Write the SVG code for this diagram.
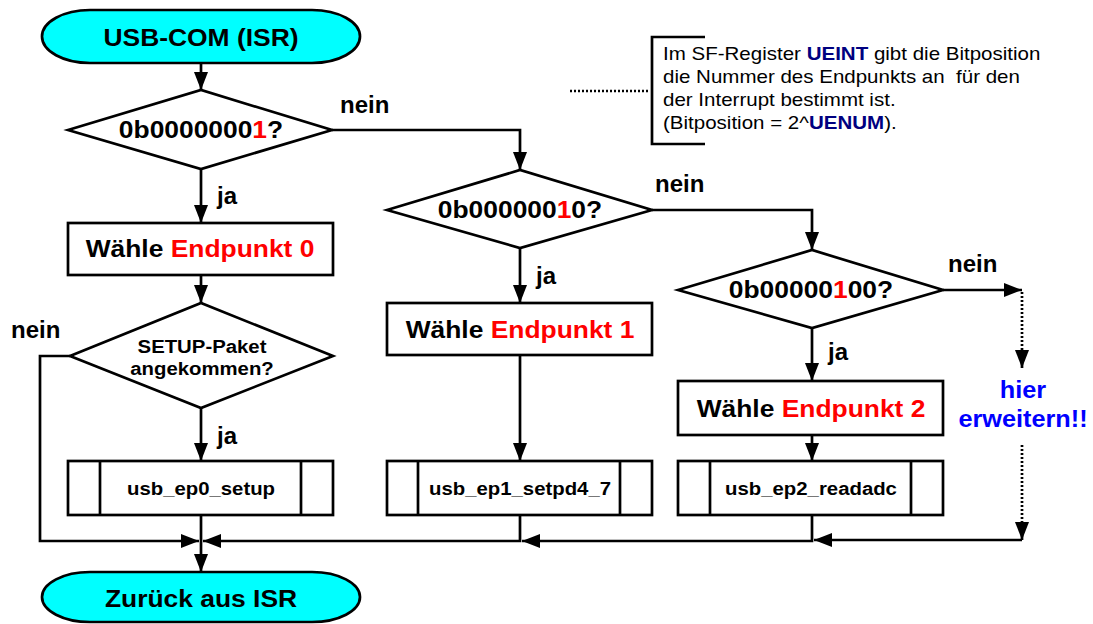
<svg xmlns="http://www.w3.org/2000/svg" width="1093" height="624" viewBox="0 0 1093 624">
  <style>
    .shape { fill: #ffffff; stroke: #000000; stroke-width: 2.7; }
    .term { fill: #00ffff; stroke: #000000; stroke-width: 2.7; }
    .line { fill: none; stroke: #000000; stroke-width: 2.7; }
    .dot { fill: none; stroke: #000000; stroke-width: 2.7; stroke-dasharray: 2 2; }
    .lbl { font-family: "Liberation Sans", Arial, sans-serif; font-weight: bold; fill: #000000; }
    .big { font-size: 24px; }
    .mid { font-size: 18.5px; }
    .red { fill: #ff0000; }
    .blue { fill: #0000ff; }
    .note { font-family: "Liberation Sans", Arial, sans-serif; font-size: 18px; fill: #000000; white-space: pre; }
    .navy { fill: #000080; font-weight: bold; }
  </style>
  <defs>
    <marker id="arr" viewBox="0 0 18 14" refX="18" refY="7" markerWidth="18" markerHeight="14" markerUnits="userSpaceOnUse" orient="auto">
      <path d="M0,0 L18,7 L0,14 Z" fill="#000000"/>
    </marker>
  </defs>

  <!-- connectors -->
  <g id="connectors">
    <path class="line" d="M201,63 V90" marker-end="url(#arr)"/>
    <path class="line" d="M201,169 V223" marker-end="url(#arr)"/>
    <path class="line" d="M201,275 V303" marker-end="url(#arr)"/>
    <path class="line" d="M201,408 V461" marker-end="url(#arr)"/>
    <path class="line" d="M201,515 V572" marker-end="url(#arr)"/>
    <path class="line" d="M70,356 H40 V541 H199" marker-end="url(#arr)"/>
    <path class="line" d="M332,130 H520 V170" marker-end="url(#arr)"/>
    <path class="line" d="M520,248 V303" marker-end="url(#arr)"/>
    <path class="line" d="M520,355 V461" marker-end="url(#arr)"/>
    <path class="line" d="M520,515 V541 H203" marker-end="url(#arr)"/>
    <path class="line" d="M652,210 H812 V250" marker-end="url(#arr)"/>
    <path class="line" d="M812,328 V381" marker-end="url(#arr)"/>
    <path class="line" d="M812,435 V461" marker-end="url(#arr)"/>
    <path class="line" d="M812,515 V541 H522" marker-end="url(#arr)"/>
    <path class="line" d="M943,290 H1022" marker-end="url(#arr)"/>
    <path class="dot" d="M1022,292 V350"/>
    <path class="line" d="M1022,350 V368" marker-end="url(#arr)"/>
    <path class="dot" d="M1022,445 V524"/>
    <path class="line" d="M1022,524 V540" marker-end="url(#arr)"/>
    <path class="line" d="M1022,540 H814" marker-end="url(#arr)"/>
    <path class="dot" d="M570,91 H648"/>
  </g>

  <!-- connector labels -->
  <g id="labels" class="lbl big">
    <text x="340" y="113">nein</text>
    <text x="655" y="192">nein</text>
    <text x="948" y="272">nein</text>
    <text x="11" y="338">nein</text>
    <text x="217" y="204">ja</text>
    <text x="536" y="284">ja</text>
    <text x="828" y="360">ja</text>
    <text x="217" y="444">ja</text>
  </g>

  <g id="start">
    <rect class="term" x="42" y="10" width="318" height="53" rx="48" ry="26.5"/>
    <text class="lbl big" transform="translate(201 0) scale(1.1 1)" x="0" y="46" text-anchor="middle">USB-COM (ISR)</text>
  </g>

  <g id="dec0">
    <polygon class="shape" points="68,130 201,90 332,130 201,169"/>
    <text class="lbl big" transform="translate(201 0) scale(1.1 1)" x="0" y="138" text-anchor="middle">0b0000000<tspan class="red">1</tspan>?</text>
  </g>

  <g id="sel0">
    <rect class="shape" x="68" y="223" width="265" height="52"/>
    <text class="lbl big" transform="translate(200 0) scale(1.1 1)" x="0" y="257" text-anchor="middle">Wähle <tspan class="red">Endpunkt 0</tspan></text>
  </g>

  <g id="setup">
    <polygon class="shape" points="70,356 201,303 333,356 201,408"/>
    <text class="lbl mid" transform="translate(202 0) scale(1.1 1)" x="0" y="353" text-anchor="middle">SETUP-Paket</text>
    <text class="lbl mid" transform="translate(202 0) scale(1.1 1)" x="0" y="375" text-anchor="middle">angekommen?</text>
  </g>

  <g id="ep0">
    <rect class="shape" x="68" y="461" width="265" height="54"/>
    <path class="line" d="M100,461 V515 M301,461 V515"/>
    <text class="lbl mid" transform="translate(201 0) scale(1.1 1)" x="0" y="495" text-anchor="middle">usb_ep0_setup</text>
  </g>

  <g id="dec1">
    <polygon class="shape" points="387,210 520,170 652,210 520,248"/>
    <text class="lbl big" transform="translate(520 0) scale(1.1 1)" x="0" y="218" text-anchor="middle">0b000000<tspan class="red">1</tspan>0?</text>
  </g>

  <g id="sel1">
    <rect class="shape" x="387" y="303" width="265" height="52"/>
    <text class="lbl big" transform="translate(520 0) scale(1.1 1)" x="0" y="338" text-anchor="middle">Wähle <tspan class="red">Endpunkt 1</tspan></text>
  </g>

  <g id="ep1">
    <rect class="shape" x="387" y="461" width="265" height="54"/>
    <path class="line" d="M418,461 V515 M620,461 V515"/>
    <text class="lbl mid" transform="translate(520 0) scale(1.1 1)" x="0" y="495" text-anchor="middle">usb_ep1_setpd4_7</text>
  </g>

  <g id="dec2">
    <polygon class="shape" points="678,290 812,250 943,290 812,328"/>
    <text class="lbl big" transform="translate(811 0) scale(1.1 1)" x="0" y="298" text-anchor="middle">0b00000<tspan class="red">1</tspan>00?</text>
  </g>

  <g id="sel2">
    <rect class="shape" x="678" y="381" width="265" height="54"/>
    <text class="lbl big" transform="translate(811 0) scale(1.1 1)" x="0" y="417" text-anchor="middle">Wähle <tspan class="red">Endpunkt 2</tspan></text>
  </g>

  <g id="ep2">
    <rect class="shape" x="678" y="461" width="265" height="54"/>
    <path class="line" d="M710,461 V515 M911,461 V515"/>
    <text class="lbl mid" transform="translate(811 0) scale(1.1 1)" x="0" y="495" text-anchor="middle">usb_ep2_readadc</text>
  </g>

  <g id="extend">
    <text class="lbl blue" font-size="23" transform="translate(1023 0) scale(1.1 1)" x="0" y="398" text-anchor="middle">hier</text>
    <text class="lbl blue" font-size="23" transform="translate(1023 0) scale(1.1 1)" x="0" y="427" text-anchor="middle">erweitern!!</text>
  </g>

  <g id="end">
    <rect class="term" x="42" y="572" width="318" height="50" rx="48" ry="25"/>
    <text class="lbl big" transform="translate(201 0) scale(1.1 1)" x="0" y="607" text-anchor="middle">Zurück aus ISR</text>
  </g>

  <g id="note">
    <path class="line" d="M705,37 H652 V144 H705"/>
    <g transform="translate(663 0) scale(1.14 1)">
      <text class="note" x="0" y="60">Im SF-Register <tspan class="navy">UEINT</tspan> gibt die Bitposition</text>
      <text class="note" x="0" y="83">die Nummer des Endpunkts an  für den</text>
      <text class="note" x="0" y="106">der Interrupt bestimmt ist.</text>
      <text class="note" x="0" y="129">(Bitposition = 2^<tspan class="navy">UENUM</tspan>).</text>
    </g>
  </g>
</svg>
